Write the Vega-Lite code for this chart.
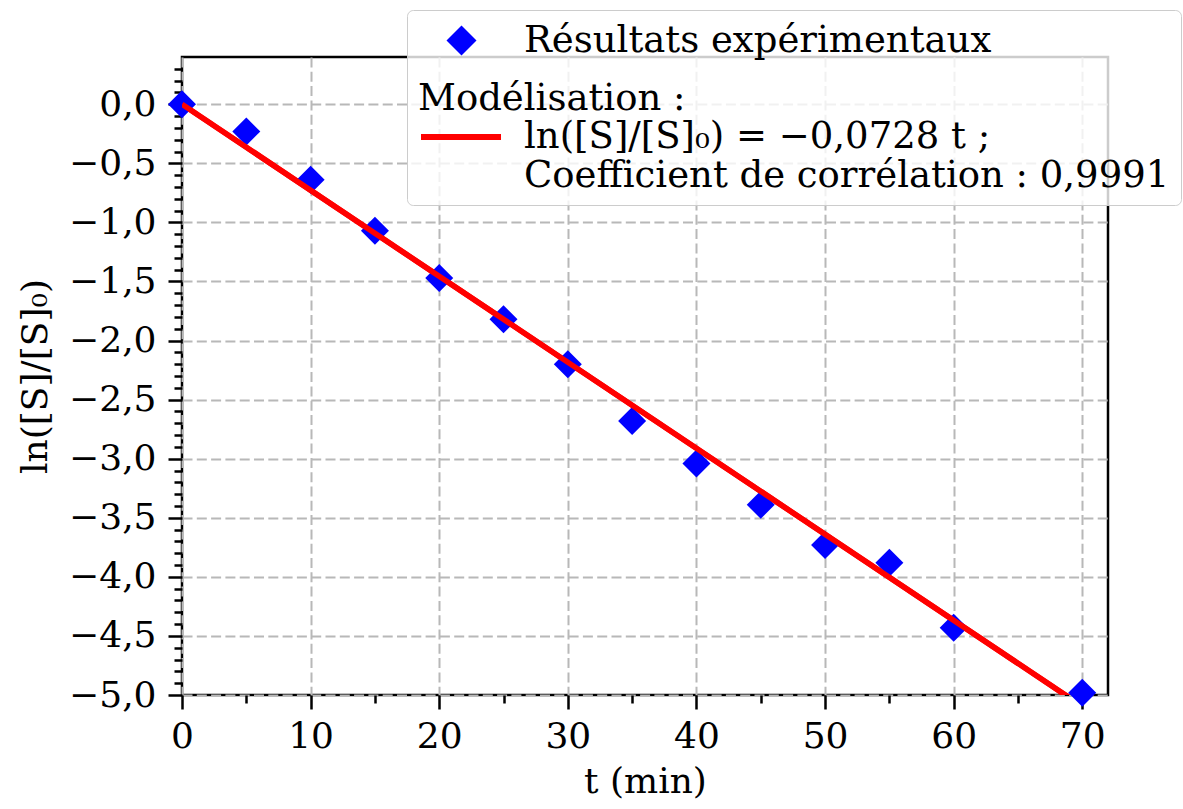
{
  "$schema": "https://vega.github.io/schema/vega-lite/v6.json",
  "width": 926,
  "height": 638,
  "autosize": "none",
  "padding": {"left": 182, "top": 57, "right": 75, "bottom": 114},
  "background": "white",
  "config": {
    "font": "DejaVu Serif",
    "view": {"stroke": "black", "strokeWidth": 2.5},
    "axis": {
      "domain": false,
      "tickColor": "black",
      "tickWidth": 2.5,
      "labelColor": "black",
      "labelFont": "DejaVu Serif",
      "labelFontSize": 36,
      "labelFlush": false,
      "labelOverlap": false,
      "titleFont": "DejaVu Serif",
      "titleFontSize": 36,
      "titleFontWeight": "normal",
      "titleColor": "black",
      "gridColor": "#b8b8b8",
      "gridWidth": 2,
      "gridDash": [10, 4.3]
    },
    "legend": {
      "labelFont": "DejaVu Serif",
      "labelFontSize": 37,
      "labelColor": "black",
      "labelLimit": 900,
      "labelBaseline": "middle"
    }
  },
  "datasets": {
    "mesures": [
      {"t": 0, "lnS": 0.0, "serie": "Résultats expérimentaux"},
      {"t": 5, "lnS": -0.23, "serie": "Résultats expérimentaux"},
      {"t": 10, "lnS": -0.64, "serie": "Résultats expérimentaux"},
      {"t": 15, "lnS": -1.07, "serie": "Résultats expérimentaux"},
      {"t": 20, "lnS": -1.47, "serie": "Résultats expérimentaux"},
      {"t": 25, "lnS": -1.82, "serie": "Résultats expérimentaux"},
      {"t": 30, "lnS": -2.2, "serie": "Résultats expérimentaux"},
      {"t": 35, "lnS": -2.68, "serie": "Résultats expérimentaux"},
      {"t": 40, "lnS": -3.04, "serie": "Résultats expérimentaux"},
      {"t": 45, "lnS": -3.39, "serie": "Résultats expérimentaux"},
      {"t": 50, "lnS": -3.73, "serie": "Résultats expérimentaux"},
      {"t": 55, "lnS": -3.88, "serie": "Résultats expérimentaux"},
      {"t": 60, "lnS": -4.43, "serie": "Résultats expérimentaux"},
      {"t": 70, "lnS": -4.98, "serie": "Résultats expérimentaux"}
    ],
    "modele": [
      {"t": 0, "lnS": 0.0, "ligne": "ln([S]/[S]₀) = −0,0728 t ;"},
      {"t": 72, "lnS": -5.2416, "ligne": "ln([S]/[S]₀) = −0,0728 t ;"}
    ]
  },
  "layer": [
    {
      "data": {"name": "modele"},
      "mark": {"type": "line", "strokeWidth": 5.5, "clip": true},
      "encoding": {
        "x": {
          "field": "t", "type": "quantitative",
          "scale": {"domain": [0, 72], "nice": false, "zero": false},
          "axis": {
            "orient": "bottom",
            "title": null,
            "values": [5, 15, 25, 35, 45, 55, 65],
            "labels": false,
            "tickSize": 8,
            "grid": false
          }
        },
        "y": {
          "field": "lnS", "type": "quantitative",
          "scale": {"domain": [-5, 0.4], "nice": false, "zero": false},
          "axis": {
            "orient": "left",
            "title": null,
            "values": [-4.9, -4.8, -4.7, -4.6, -4.4, -4.3, -4.2, -4.1, -3.9, -3.8, -3.7, -3.6, -3.4, -3.3, -3.2, -3.1, -2.9, -2.8, -2.7, -2.6, -2.4, -2.3, -2.2, -2.1, -1.9, -1.8, -1.7, -1.6, -1.4, -1.3, -1.2, -1.1, -0.9, -0.8, -0.7, -0.6, -0.4, -0.3, -0.2, -0.1, 0.1, 0.2, 0.3],
            "labels": false,
            "tickSize": 8,
            "grid": false
          }
        },
        "stroke": {
          "field": "ligne", "type": "nominal",
          "scale": {"domain": ["ln([S]/[S]₀) = −0,0728 t ;"], "range": ["red"]},
          "legend": {
            "orient": "none",
            "legendX": 225,
            "legendY": -47,
            "title": [" ", "         Modélisation :"],
            "titleFont": "DejaVu Serif",
            "titleFontSize": 37,
            "titleFontWeight": "normal",
            "titleColor": "black",
            "titleLimit": 900,
            "titleAnchor": "start",
            "titleAlign": "left",
            "titleBaseline": "top",
            "titleLineHeight": 60,
            "titlePadding": -24,
            "padding": 11,
            "labelOffset": 20,
            "labelExpr": "[datum.label, 'Coefficient de corrélation : 0,9991']",
            "symbolType": "stroke",
            "symbolSize": 6400,
            "symbolStrokeWidth": 6,
            "symbolOpacity": 1,
            "fillColor": "rgba(255,255,255,0.8)",
            "strokeColor": "#cccccc",
            "cornerRadius": 6
          }
        }
      }
    },
    {
      "data": {"name": "mesures"},
      "mark": {"type": "point", "shape": "diamond", "filled": true, "size": 784, "color": "blue", "opacity": 1, "clip": false},
      "encoding": {
        "x": {
          "field": "t", "type": "quantitative",
          "axis": {
            "orient": "bottom",
            "title": "t (min)",
            "values": [0, 10, 20, 30, 40, 50, 60, 70],
            "tickSize": 14,
            "labelPadding": 10,
            "titlePadding": 10,
            "grid": true
          }
        },
        "y": {
          "field": "lnS", "type": "quantitative",
          "axis": {
            "orient": "left",
            "title": "ln([S]/[S]₀)",
            "values": [-5, -4.5, -4, -3.5, -3, -2.5, -2, -1.5, -1, -0.5, 0],
            "labelExpr": "replace(format(datum.value, '.1f'), '.', ',')",
            "tickSize": 14,
            "labelPadding": 12,
            "titlePadding": 14,
            "grid": true
          }
        },
        "shape": {
          "field": "serie", "type": "nominal",
          "scale": {"domain": ["Résultats expérimentaux"], "range": ["diamond"]},
          "legend": {
            "orient": "none",
            "legendX": 250,
            "legendY": -46,
            "title": null,
            "padding": 11,
            "labelOffset": 44,
            "symbolSize": 900,
            "symbolFillColor": "blue",
            "symbolStrokeColor": "blue",
            "symbolStrokeWidth": 0,
            "symbolOpacity": 1
          }
        }
      }
    },
    {
      "data": {"name": "modele"},
      "mark": {"type": "line", "color": "red", "strokeWidth": 5.5, "clip": true},
      "encoding": {
        "x": {"field": "t", "type": "quantitative", "axis": null},
        "y": {"field": "lnS", "type": "quantitative", "axis": null}
      }
    }
  ],
  "resolve": {"axis": {"x": "independent", "y": "independent"}}
}
